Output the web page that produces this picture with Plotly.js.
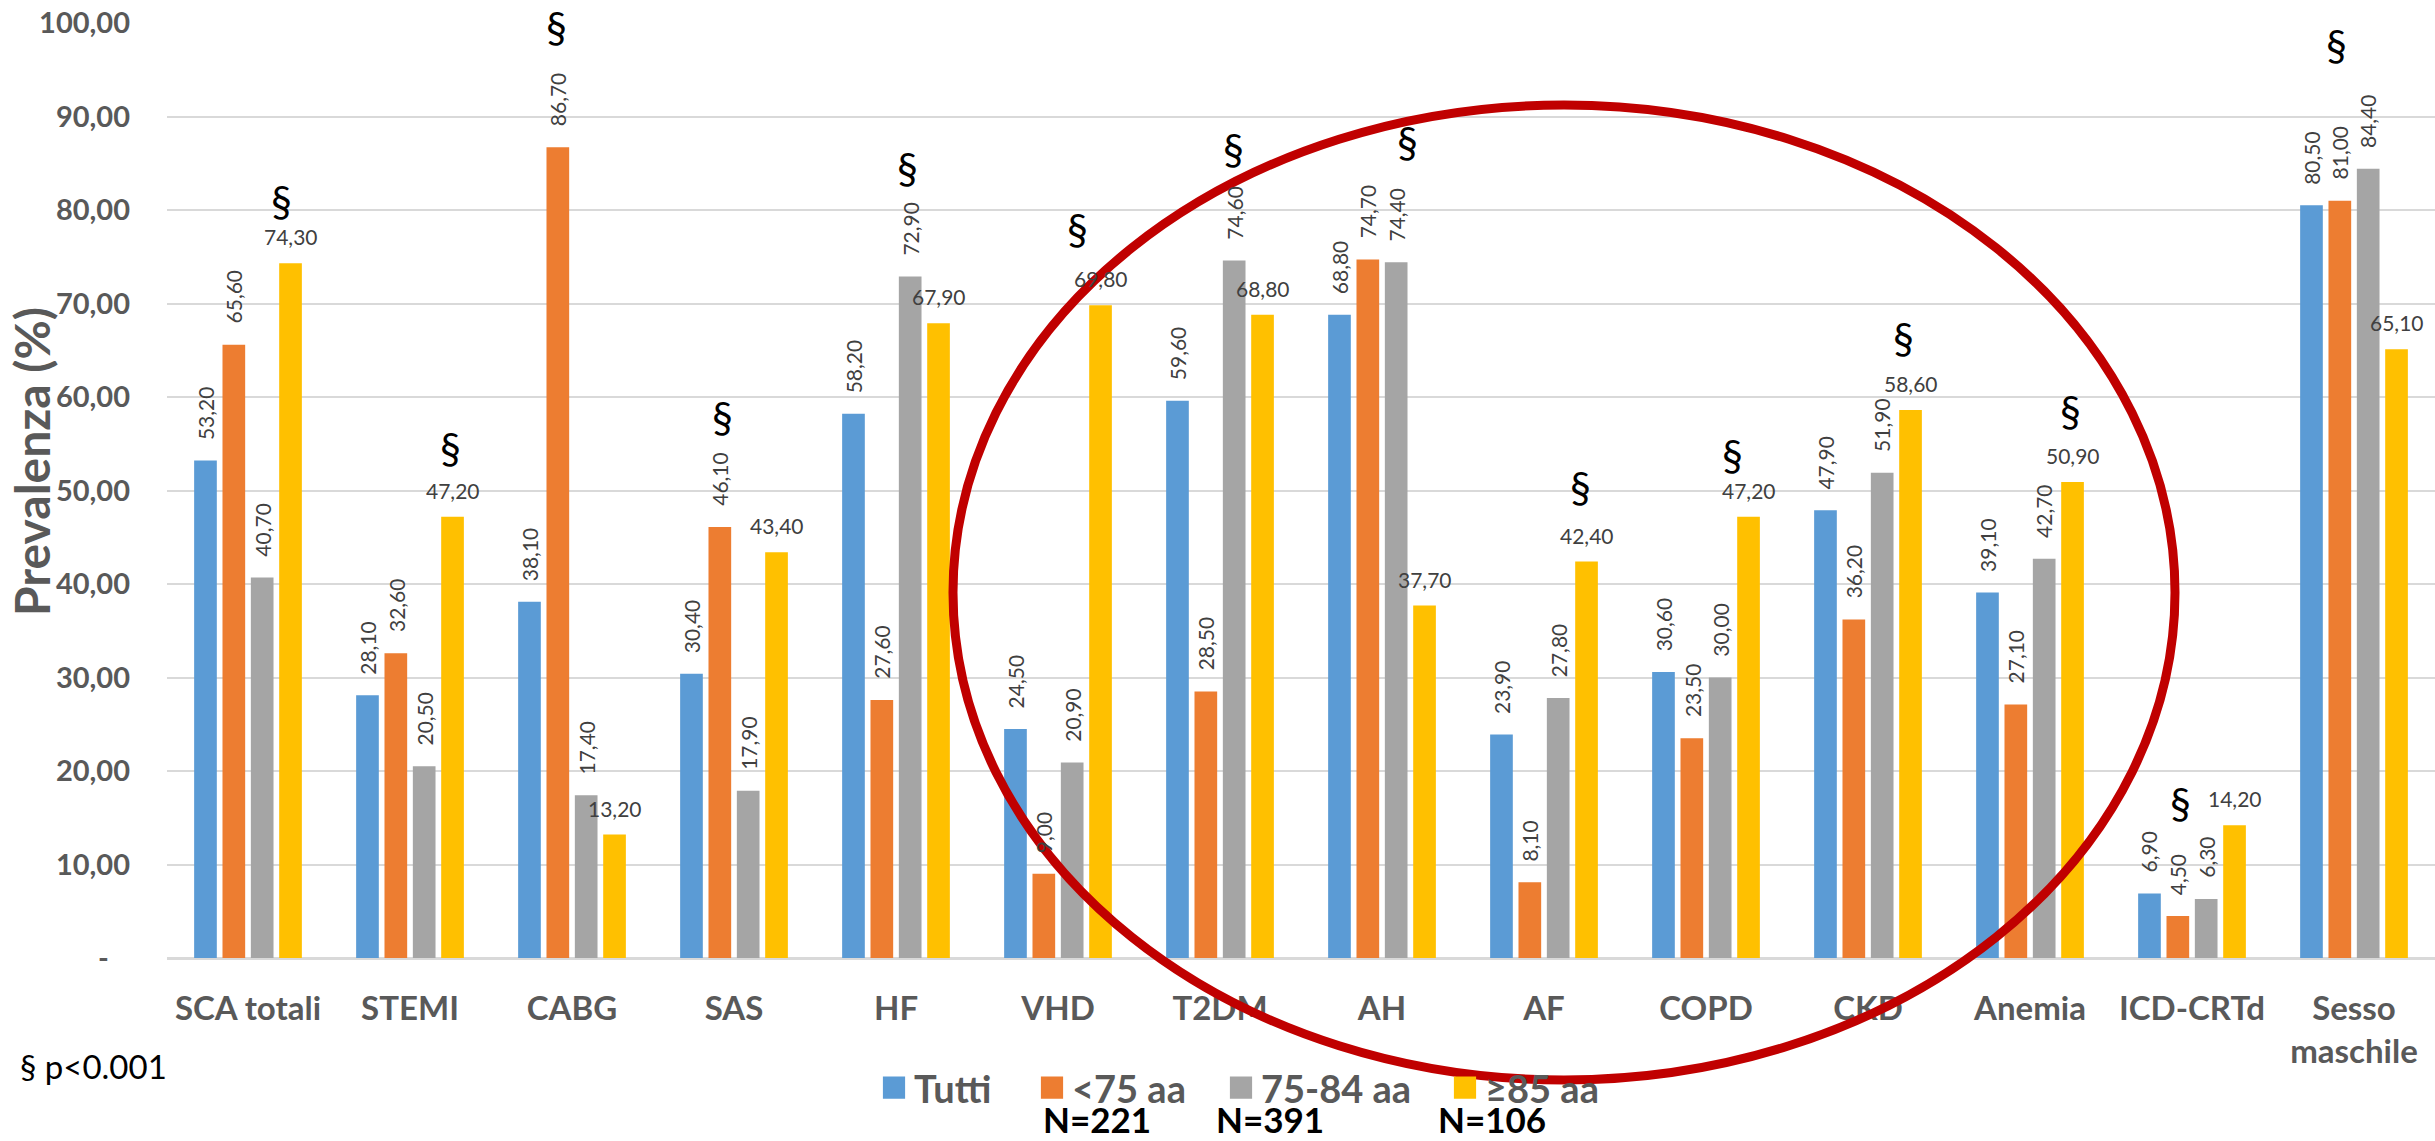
<!DOCTYPE html>
<html>
<head>
<meta charset="utf-8">
<script src="https://cdn.plot.ly/plotly-3.0.1.min.js"></script>
<style>
  html, body { margin: 0; padding: 0; background: #ffffff; }
  #chart { width: 2435px; height: 1141px; }
</style>
</head>
<body>
<div id="chart"></div>
<script>
// ---------------- DATA ----------------
const categories = ['SCA totali', 'STEMI', 'CABG', 'SAS', 'HF', 'VHD', 'T2DM', 'AH', 'AF',
                    'COPD', 'CKD', 'Anemia', 'ICD-CRTd', 'Sesso<br>maschile'];
const seriesNames = ['Tutti', '<75 aa', '75-84 aa', '≥85 aa'];
const tutti     = [53.2, 28.1, 38.1, 30.4, 58.2, 24.5, 59.6, 68.8, 23.9, 30.6, 47.9, 39.1, 6.9, 80.5];
const under75   = [65.6, 32.6, 86.7, 46.1, 27.6,  9.0, 28.5, 74.7,  8.1, 23.5, 36.2, 27.1, 4.5, 81.0];
const age75to84 = [40.7, 20.5, 17.4, 17.9, 72.9, 20.9, 74.6, 74.4, 27.8, 30.0, 51.9, 42.7, 6.3, 84.4];
const over85    = [74.3, 47.2, 13.2, 43.4, 67.9, 69.8, 68.8, 37.7, 42.4, 47.2, 58.6, 50.9, 14.2, 65.1];
const yTickValues = [0, 10, 20, 30, 40, 50, 60, 70, 80, 90, 100];
const yTickLabels = ['-\u00a0\u00a0\u00a0', '10,00', '20,00', '30,00', '40,00', '50,00', '60,00',
                     '70,00', '80,00', '90,00', '100,00'];
const groupSizes = ['N=221', 'N=391', 'N=106'];
const significanceNote = '§ p<0.001';
const yTitle = 'Prevalenza (%)';

// ---------------- LAYOUT / STYLE ----------------
const W = 2435, H = 1141;
const M = { l: 167, r: 0, t: 23, b: 183 };
const colors = ['#5B9BD5', '#ED7D31', '#A5A5A5', '#FFC000'];
const legendWidths = [113, 144, 179, 120];
const BARGAP = 0.3, BARGROUPGAP = 0.2;
const FONT = 'Lato, "Open Sans", "Liberation Sans", sans-serif';
const plotW = W - M.l - M.r;
const plotH = H - M.t - M.b;
const slot = plotW / categories.length * (1 - BARGAP) / 4;
const px2paperX = px => (px - M.l) / plotW;
const px2paperY = py => (H - M.b - py) / plotH;

// § marks: category index, vertical level (data units), horizontal nudge (px)
const sigMarks = [
  { i: 0, y: 81.0, dx: 33 }, { i: 1, y: 54.5, dx: 40 }, { i: 2, y: 99.6, dx: -16 },
  { i: 3, y: 57.9, dx: -12 }, { i: 4, y: 84.5, dx: 11 }, { i: 5, y: 78.0, dx: 19 },
  { i: 6, y: 86.5, dx: 13 }, { i: 7, y: 87.3, dx: 25 }, { i: 8, y: 50.4, dx: 36 },
  { i: 9, y: 53.8, dx: 26 }, { i: 10, y: 66.3, dx: 35 }, { i: 11, y: 58.5, dx: 40 },
  { i: 12, y: 16.6, dx: -12 }, { i: 13, y: 97.6, dx: -18 }
];

const allSeries = [tutti, under75, age75to84, over85];
const fmt = v => v.toFixed(2).replace('.', ',');

const traces = allSeries.map((vals, k) => ({
  type: 'bar',
  name: '<b>' + seriesNames[k].replace('<', '&lt;') + '</b>',
  legendwidth: legendWidths[k],
  x: categories,
  y: vals,
  marker: { color: colors[k] },
  hoverinfo: 'x+y'
}));

const annotations = [];
allSeries.forEach((vals, k) => {
  vals.forEach((v, i) => {
    annotations.push({
      x: categories[i], y: v, xref: 'x', yref: 'y',
      text: fmt(v), showarrow: false,
      xanchor: 'center', yanchor: 'bottom',
      xshift: (k - 1.5) * slot,
      yshift: k < 3 ? 19 : 12,
      textangle: k < 3 ? -90 : 0,
      font: { family: FONT, size: 21, color: '#404040' }
    });
  });
});
sigMarks.forEach(s => {
  annotations.push({
    x: categories[s.i], y: s.y, xref: 'x', yref: 'y',
    text: '§', showarrow: false, xanchor: 'center', yanchor: 'middle',
    xshift: s.dx,
    font: { family: FONT, size: 42, color: '#000000' }
  });
});
// y-axis title (placed to match the original figure)
annotations.push({
  x: px2paperX(32), y: px2paperY(462), xref: 'paper', yref: 'paper',
  text: '<b>' + yTitle + '</b>', showarrow: false, textangle: -90,
  xanchor: 'center', yanchor: 'middle', borderpad: 0,
  font: { family: FONT, size: 48, color: '#595959' }
});
// footnote and group sizes
annotations.push({
  x: px2paperX(18), y: px2paperY(1066), xref: 'paper', yref: 'paper',
  text: significanceNote, showarrow: false, xanchor: 'left', yanchor: 'middle',
  font: { family: FONT, size: 33, color: '#000000' }
});
const nPos = [1097, 1270, 1492];
groupSizes.forEach((t, j) => {
  annotations.push({
    x: px2paperX(nPos[j]), y: px2paperY(1141), xref: 'paper', yref: 'paper',
    text: '<b>' + t + '</b>', showarrow: false, xanchor: 'center', yanchor: 'bottom',
    borderpad: 0,
    font: { family: FONT, size: 35, color: '#000000' }
  });
});

const layout = {
  width: W, height: H,
  margin: { l: M.l, r: M.r, t: M.t, b: M.b, pad: 0 },
  paper_bgcolor: '#ffffff', plot_bgcolor: '#ffffff',
  barmode: 'group', bargap: BARGAP, bargroupgap: BARGROUPGAP,
  font: { family: FONT, color: '#595959' },
  showlegend: true,
  legend: {
    orientation: 'h', x: px2paperX(874), y: px2paperY(1088),
    xanchor: 'left', yanchor: 'middle',
    font: { family: FONT, size: 38, color: '#595959', weight: 'bold' },
    bgcolor: 'rgba(0,0,0,0)', borderwidth: 0,
    itemclick: false, itemdoubleclick: false
  },
  xaxis: {
    type: 'category', categoryorder: 'array', categoryarray: categories,
    showgrid: false, ticks: '', ticklabelstandoff: 28,
    tickfont: { family: FONT, size: 33, color: '#595959', weight: 'bold' },
    showline: false, fixedrange: true
  },
  yaxis: {
    range: [0, 100], tickvals: yTickValues, ticktext: yTickLabels,
    showgrid: true, gridcolor: '#d9d9d9', gridwidth: 2,
    zeroline: true, zerolinecolor: '#d9d9d9', zerolinewidth: 3,
    ticks: '', ticklabelstandoff: 36,
    tickfont: { family: FONT, size: 29, color: '#595959', weight: 'bold' },
    automargin: false, fixedrange: true
  },
  shapes: [{
    type: 'circle', xref: 'paper', yref: 'paper', layer: 'above',
    x0: px2paperX(953), x1: px2paperX(2175), y0: px2paperY(1080), y1: px2paperY(105),
    line: { color: '#C00000', width: 9 }, fillcolor: 'rgba(0,0,0,0)'
  }],
  annotations: annotations
};

Plotly.newPlot('chart', traces, layout, { displayModeBar: false, responsive: false }).then(gd => {
  gd.querySelectorAll('.legendpoints path').forEach(p => {
    const t = p.getAttribute('transform') || '';
    p.setAttribute('transform', t + ' scale(1.85)');
  });
});
</script>
</body>
</html>
